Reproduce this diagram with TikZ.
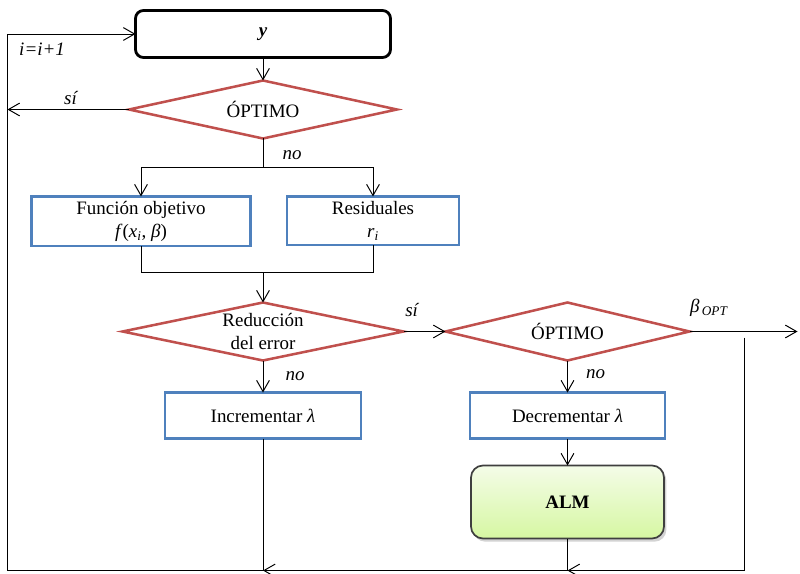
\documentclass[tikz,border=0pt]{standalone}
\usepackage{fontspec}
\setmainfont{Liberation Serif}
\usetikzlibrary{arrows.meta,calc,positioning,shadows,shapes}

\definecolor{decred}{HTML}{C0504D}
\definecolor{boxblue}{HTML}{4F81BD}
\definecolor{almtop}{HTML}{F4FCE8}
\definecolor{almbot}{HTML}{D6F7A2}
\definecolor{almframe}{HTML}{3F3F3F}

\begin{document}
\begin{tikzpicture}[>={Straight Barb[length=2.8mm,width=3.2mm]}, line width=0.7pt, font=\fontsize{13.5}{16.4}\selectfont, every node/.style={outer sep=0pt}]
	\tikzstyle{inputbox} = [draw, line width=2pt, rounded corners=0.2cm, minimum width=6.375cm, minimum height=1.175cm]
	\tikzstyle{block} = [draw=boxblue, line width=1.5pt, rectangle, align=center, minimum height=1.175cm]
	\tikzstyle{decision} = [draw=decred, line width=1.8pt, diamond, aspect=4.8, align=center, inner sep=0pt, minimum height=1.45cm]
	\tikzstyle{almbox} = [draw=almframe, line width=1.2pt, rounded corners=0.3cm, top color=almtop, bottom color=almbot, minimum width=4.825cm, minimum height=1.825cm, drop shadow={shadow xshift=0.06cm, shadow yshift=-0.08cm, opacity=0.35}]

	\useasboundingbox (-6.575,0.85) rectangle (13.425,-13.5);

	\node [inputbox] (y) {\textbf{\textit{y}}};
	\node [decision, minimum width=6.7cm, below = 0.575cm of y] (opt1) {ÓPTIMO};
	\node [coordinate, below = 0.725cm of opt1] (split) {};
	\node [block, minimum width=5.475cm, below = 0.725cm of split, xshift=-3.05cm] (fobj) {Función objetivo\\ \textit{f}(\textit{x}\textsubscript{\textit{i}}, \textit{β})};
	\node [block, minimum width=4.3cm, below = 0.725cm of split, xshift=2.75cm] (resid) {Residuales\\ \textit{r}\textsubscript{\textit{i}}};
	\node [decision, minimum width=7.025cm, below = 3.375cm of split] (reduc) {Reducción\\ del error};
	\node [coordinate, above = 0.75cm of reduc] (join) {};
	\node [decision, minimum width=6.1cm, right = 1.05cm of reduc] (opt2) {ÓPTIMO};
	\node [block, minimum width=4.9cm, minimum height=1.15cm, below = 0.8cm of reduc] (incr) {Incrementar \textit{λ}};
	\node [block, minimum width=4.875cm, minimum height=1.15cm, below = 0.8cm of opt2] (decr) {Decrementar \textit{λ}};
	\node [almbox, below = 0.675cm of decr] (alm) {\textbf{ALM}};

	\node [coordinate, right = 2.7cm of opt2] (out) {};
	\node [coordinate, right = 1.375cm of opt2, yshift=-0.15cm] (back) {};
	\node [coordinate, below = 0.8cm of alm] (b2) {};
	\node [coordinate, left = 3.2cm of y] (lc) {};

	\draw [->] (y) -- (opt1);
	\draw [->] (opt1) -- node[above, pos=0.475]{\textit{sí}} (lc |- opt1);
	\draw (opt1) -- node[right, pos=0.59, xshift=0.375cm]{\textit{no}} (split);
	\draw [->] (split) -| (fobj);
	\draw [->] (split) -| (resid);
	\draw (fobj) |- (join) -| (resid);
	\draw [->] (join) -- (reduc);
	\draw [->] (reduc) -- node[above, pos=0.21, yshift=0.25cm]{\textit{sí}} (opt2);
	\draw [->] (opt2) -- node[above right, pos=0, xshift=-0.1cm, yshift=0.25cm]{\textit{β}\textsubscript{\,\textit{OPT}}} (out);
	\draw [->] (reduc) -- node[right, xshift=0.45cm]{\textit{no}} (incr);
	\draw [->] (opt2) -- node[right, pos=0.44, xshift=0.35cm]{\textit{no}} (decr);
	\draw [->] (decr) -- (alm);

	% return paths along the bottom
	\draw (incr) -- (incr |- b2);
	\draw (alm) -- (b2);
	\draw (back) -- (back |- b2);
	\draw [->] (back |- b2) -- (b2);
	\draw [->] (b2) -- (incr |- b2);
	\draw [->] (incr |- b2) -- (lc |- b2) -- (lc) -- node[below, pos=0.27, yshift=-0.1cm]{\textit{i=i+1}} (y);
\end{tikzpicture}
\end{document}
